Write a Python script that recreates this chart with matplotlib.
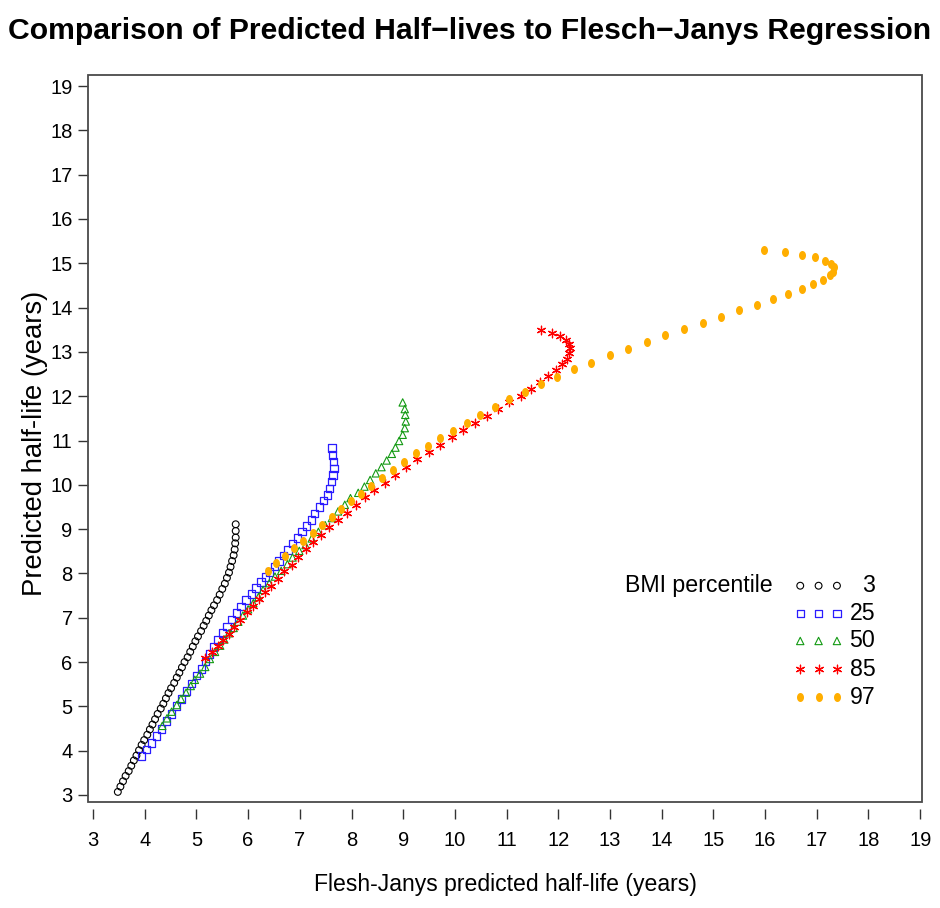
import matplotlib
matplotlib.use("Agg")
import matplotlib.pyplot as plt
import numpy as np
from matplotlib.path import Path
from matplotlib.patches import Rectangle

REG = 'Liberation Sans'

# ---------------- data ----------------
bmi_labels = ["3", "25", "50", "85", "97"]

fj_p3 = [3.48, 3.53, 3.58, 3.63, 3.69, 3.74, 3.79, 3.84, 3.89, 3.94, 3.99, 4.05, 4.10, 4.15,
         4.20, 4.25, 4.31, 4.36, 4.41, 4.46, 4.51, 4.57, 4.62, 4.67, 4.72, 4.77, 4.83, 4.88,
         4.93, 4.98, 5.03, 5.09, 5.14, 5.19, 5.24, 5.29, 5.34, 5.40, 5.45, 5.50, 5.55, 5.59,
         5.63, 5.66, 5.69, 5.72, 5.74, 5.75, 5.76, 5.76, 5.76]
hl_p3 = [3.07, 3.19, 3.31, 3.43, 3.54, 3.66, 3.78, 3.89, 4.01, 4.13, 4.24, 4.36, 4.48, 4.59,
         4.71, 4.83, 4.95, 5.06, 5.18, 5.30, 5.41, 5.53, 5.65, 5.76, 5.88, 6.00, 6.11, 6.23,
         6.35, 6.47, 6.58, 6.70, 6.82, 6.93, 7.05, 7.17, 7.28, 7.40, 7.52, 7.65, 7.77, 7.90,
         8.02, 8.15, 8.28, 8.41, 8.54, 8.68, 8.81, 8.96, 9.11]

fj_p25 = [3.94, 4.03, 4.13, 4.23, 4.32, 4.42, 4.52, 4.62, 4.71, 4.81, 4.91, 5.00, 5.10, 5.18,
          5.25, 5.33, 5.42, 5.50, 5.59, 5.68, 5.77, 5.86, 5.96, 6.06, 6.15, 6.25, 6.34, 6.42,
          6.51, 6.60, 6.68, 6.77, 6.86, 6.96, 7.04, 7.13, 7.22, 7.29, 7.38, 7.46, 7.53, 7.57,
          7.61, 7.64, 7.66, 7.65, 7.63, 7.62]
hl_p25 = [3.88, 4.03, 4.17, 4.33, 4.49, 4.67, 4.83, 5.01, 5.17, 5.35, 5.51, 5.69, 5.84, 6.02,
          6.18, 6.34, 6.50, 6.66, 6.81, 6.96, 7.11, 7.26, 7.40, 7.54, 7.67, 7.81, 7.92, 8.03,
          8.16, 8.28, 8.41, 8.53, 8.67, 8.80, 8.94, 9.07, 9.21, 9.35, 9.50, 9.64, 9.77, 9.92,
          10.07, 10.22, 10.37, 10.52, 10.67, 10.83]

fj_p50 = [4.34, 4.43, 4.52, 4.62, 4.70, 4.80, 4.89, 4.97, 5.07, 5.17, 5.26, 5.36, 5.46, 5.54,
          5.63, 5.72, 5.81, 5.90, 6.00, 6.10, 6.20, 6.29, 6.41, 6.52, 6.64, 6.76, 6.86, 6.99,
          7.11, 7.23, 7.36, 7.49, 7.62, 7.74, 7.87, 7.98, 8.13, 8.25, 8.36, 8.47, 8.58, 8.68,
          8.78, 8.85, 8.92, 8.99, 9.03, 9.05, 9.04, 9.03, 8.99]
hl_p50 = [4.56, 4.73, 4.88, 5.03, 5.17, 5.31, 5.46, 5.60, 5.74, 5.89, 6.07, 6.23, 6.37, 6.51,
          6.65, 6.77, 6.91, 7.05, 7.19, 7.33, 7.47, 7.63, 7.78, 7.93, 8.06, 8.21, 8.36, 8.51,
          8.64, 8.79, 8.94, 9.09, 9.25, 9.40, 9.55, 9.70, 9.82, 9.96, 10.11, 10.26, 10.40,
          10.55, 10.70, 10.84, 10.99, 11.13, 11.28, 11.43, 11.58, 11.71, 11.86]

fj_p85 = [5.17, 5.30, 5.41, 5.52, 5.63, 5.73, 5.85, 5.97, 6.09, 6.21, 6.33, 6.44, 6.57, 6.70,
          6.84, 6.97, 7.12, 7.26, 7.41, 7.57, 7.73, 7.91, 8.09, 8.26, 8.44, 8.65, 8.85, 9.05,
          9.27, 9.49, 9.71, 9.94, 10.16, 10.39, 10.62, 10.84, 11.05, 11.27, 11.47, 11.65,
          11.81, 11.96, 12.08, 12.16, 12.21, 12.23, 12.21, 12.15, 12.03, 11.87, 11.67]
hl_p85 = [6.09, 6.23, 6.36, 6.50, 6.63, 6.79, 6.95, 7.12, 7.26, 7.42, 7.58, 7.72, 7.88, 8.06,
          8.20, 8.37, 8.55, 8.70, 8.87, 9.04, 9.20, 9.37, 9.55, 9.72, 9.89, 10.05, 10.22,
          10.40, 10.58, 10.74, 10.90, 11.07, 11.24, 11.40, 11.56, 11.71, 11.86, 12.01, 12.17,
          12.33, 12.46, 12.59, 12.73, 12.84, 12.97, 13.08, 13.17, 13.26, 13.35, 13.42, 13.50]

fj_p97 = [6.38, 6.54, 6.71, 6.89, 7.06, 7.26, 7.43, 7.62, 7.80, 7.99, 8.18, 8.38, 8.59, 8.80,
          9.02, 9.25, 9.47, 9.71, 9.96, 10.23, 10.49, 10.78, 11.05, 11.36, 11.67, 11.97, 12.30,
          12.63, 13.00, 13.35, 13.72, 14.06, 14.43, 14.80, 15.15, 15.50, 15.84, 16.15, 16.44,
          16.71, 16.93, 17.12, 17.26, 17.31, 17.33, 17.27, 17.16, 16.97, 16.71, 16.38, 15.98]
hl_p97 = [8.06, 8.24, 8.40, 8.58, 8.73, 8.91, 9.09, 9.28, 9.46, 9.64, 9.79, 9.98, 10.16,
          10.34, 10.52, 10.72, 10.88, 11.05, 11.22, 11.40, 11.58, 11.76, 11.93, 12.10, 12.28,
          12.44, 12.62, 12.75, 12.93, 13.07, 13.23, 13.38, 13.52, 13.65, 13.79, 13.95, 14.06,
          14.20, 14.31, 14.42, 14.54, 14.63, 14.74, 14.81, 14.92, 14.99, 15.05, 15.14, 15.19,
          15.26, 15.30]

x_ticks = list(range(3, 20))
y_ticks = list(range(3, 20))

# ---------------- styles ----------------
t = np.linspace(0, 2 * np.pi, 41)
ellipse = Path(np.column_stack([0.78 * np.cos(t), np.sin(t)]), closed=True)

styles = [
    dict(marker='o', facecolors='none', edgecolors='black', s=24, linewidths=0.8),
    dict(marker='s', facecolors='none', edgecolors='#2a1cff', s=28, linewidths=0.9),
    dict(marker='^', facecolors='none', edgecolors='#139a13', s=28, linewidths=0.8),
    dict(marker=(6, 2, 0), c='#ff0000', s=38, linewidths=0.9),
    dict(marker=ellipse, c='#ffae00', s=42, linewidths=0),
]
series = [(fj_p3, hl_p3), (fj_p25, hl_p25), (fj_p50, hl_p50),
          (fj_p85, hl_p85), (fj_p97, hl_p97)]

fig = plt.figure(figsize=(9.4, 9.08), dpi=100)
ax = fig.add_axes([88 / 940, 1 - 802 / 908, (922 - 88) / 940, (802 - 75) / 908])

for sp in ax.spines.values():
    sp.set_visible(False)
ax.spines['bottom'].set_position(('outward', 5))

for (xs, ys), st in zip(series, styles):
    ax.scatter(xs, ys, zorder=3, **st)

ax.set_xlim(2.903, 19.035)
ax.set_ylim(2.842, 19.25)
ax.set_xticks(x_ticks)
ax.set_yticks(y_ticks)
ax.set_xticklabels([str(v) for v in x_ticks])
ax.set_yticklabels([str(v) for v in y_ticks])
ax.tick_params(axis='both', direction='out', length=7, width=1.0, color='#333333',
               labelsize=14.5)
for lab in ax.get_xticklabels() + ax.get_yticklabels():
    lab.set_fontfamily(REG)
ax.tick_params(axis='x', pad=9)
ax.tick_params(axis='y', pad=4)

ax.add_patch(Rectangle((0, 0), 1, 1, transform=ax.transAxes, fill=False,
                       lw=1.3, edgecolor='#4a4a4a', zorder=5, clip_on=False))

# legend drawn manually
leg_mx = [0.854, 0.876, 0.898]
leg_y = [0.2975, 0.2596, 0.2215, 0.1825, 0.144]
leg_title = ax.text(0.821, leg_y[0], "BMI percentile", transform=ax.transAxes, ha='right',
                    va='center', fontfamily=REG, fontsize=14.5)
leg_texts = []
for lab, st, yy in zip(bmi_labels, styles, leg_y):
    ax.scatter(leg_mx, [yy] * 3, transform=ax.transAxes, zorder=4, **st)
    leg_texts.append(ax.text(0.944, yy, lab, transform=ax.transAxes, ha='right',
                             va='center', fontfamily=REG, fontsize=14.5))

title = fig.text(0.5, 1 - 31 / 908,
                 "Comparison of Predicted Half\u2212lives to Flesch\u2212Janys Regression",
                 ha='center', va='center', fontfamily=REG, fontweight='bold', fontsize=20)
ylab = fig.text(35 / 940, 1 - 443 / 908, "Predicted half-life (years)", rotation=90,
                ha='center', va='center', fontfamily=REG, fontsize=16.5)
xlab = fig.text(505 / 940, 1 - 885 / 908, "Flesh-Janys predicted half-life (years)",
                ha='center', va='center', fontfamily=REG, fontsize=16)

# fit text sizes to the reference extents (pixels)
fig.canvas.draw()
r = fig.canvas.get_renderer()


def fit(txt, target, vertical=False):
    bb = txt.get_window_extent(renderer=r)
    cur = bb.height if vertical else bb.width
    txt.set_fontsize(txt.get_fontsize() * target / cur)


fit(title, 922)
fit(ylab, 305, vertical=True)
fit(xlab, 384)
fit(leg_title, 148)
for tx in leg_texts:
    tx.set_fontsize(leg_title.get_fontsize())

fig.savefig("out.png", dpi=100, facecolor='white')
